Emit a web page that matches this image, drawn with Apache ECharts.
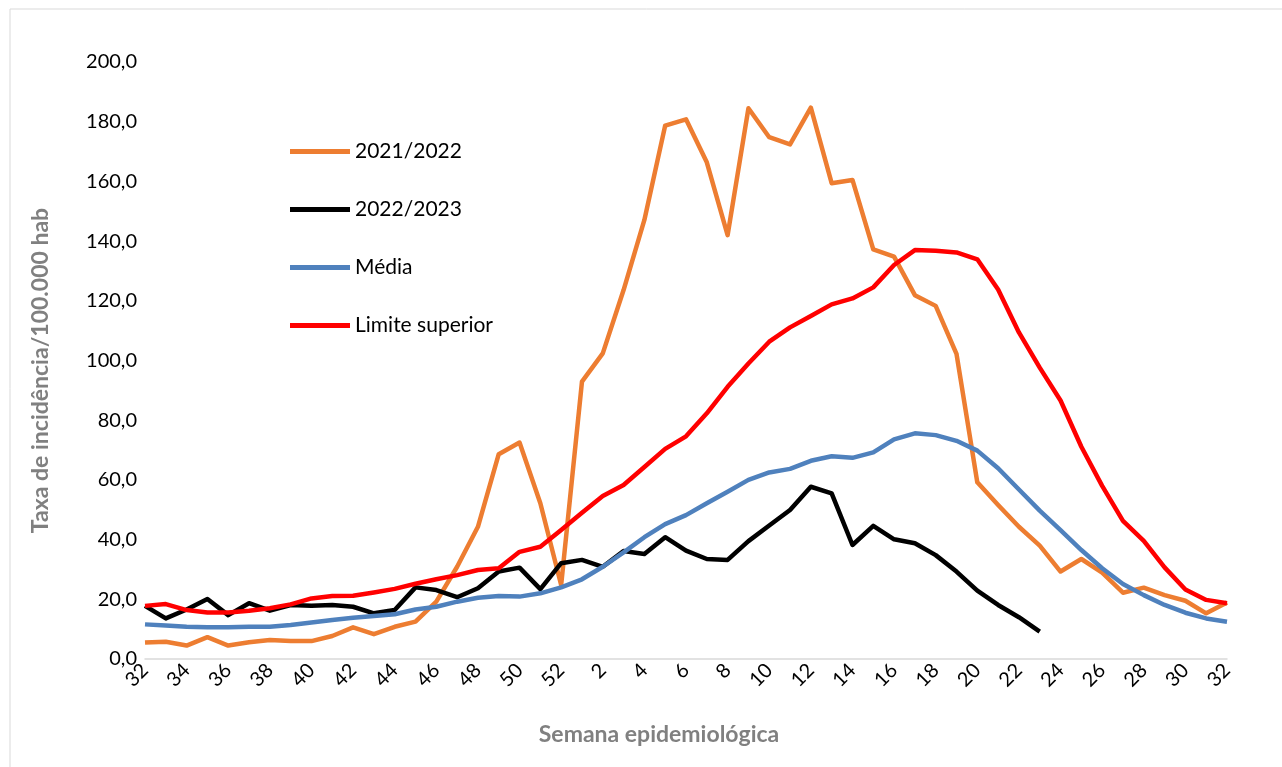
<html>
<head>
    <meta charset="utf-8">
    <title>Taxa de incidência</title>
    <script src="https://cdn.jsdelivr.net/npm/echarts@6/dist/echarts.min.js"></script>
    <style>
        body { margin: 0; background: #fff; }
        #main { width: 1282px; height: 767px; }
    </style>
</head>
<body>
<div id="main"></div>
<script type="text/javascript">
    // semanas epidemiológicas: 32..52 e depois 1..32
    var semanas = ['32','33','34','35','36','37','38','39','40','41','42','43','44','45','46','47','48','49','50','51','52',
        '1','2','3','4','5','6','7','8','9','10','11','12','13','14','15','16','17','18','19','20','21','22','23','24','25','26','27','28','29','30','31','32'];

    var temp2122 = [5.5, 5.8, 4.5, 7.3, 4.5, 5.6, 6.4, 6.0, 6.0, 7.7, 10.6, 8.3, 10.8, 12.5, 19.2, 30.9, 44.3, 68.6, 72.5, 52.2, 24.8,
        92.9, 102.4, 123.6, 147.1, 178.7, 180.8, 166.4, 142.0, 184.5, 174.8, 172.4, 184.7, 159.4, 160.5, 137.2, 134.8, 121.9, 118.3, 102.2,
        59.2, 51.6, 44.3, 38.0, 29.3, 33.5, 28.9, 22.2, 23.9, 21.4, 19.5, 15.3, 18.9];

    var temp2223 = [17.8, 13.6, 16.6, 20.1, 14.7, 18.7, 16.2, 18.1, 17.8, 18.1, 17.5, 15.3, 16.4, 24.0, 23.1, 20.7, 23.7, 29.3, 30.6, 23.4, 32.1,
        33.2, 30.9, 36.2, 35.2, 40.8, 36.3, 33.5, 33.2, 39.5, 44.7, 49.9, 57.7, 55.5, 38.2, 44.6, 40.1, 38.8, 34.8, 29.3,
        22.9, 18.1, 14.0, 9.2, null, null, null, null, null, null, null, null, null];

    var media = [11.6, 11.2, 10.8, 10.6, 10.6, 10.8, 10.8, 11.4, 12.2, 13.1, 13.8, 14.4, 15.0, 16.6, 17.5, 19.2, 20.5, 21.1, 20.9, 22.0, 24.0,
        26.7, 30.9, 35.7, 40.8, 45.2, 48.2, 52.2, 56.0, 60.0, 62.5, 63.7, 66.4, 67.9, 67.4, 69.2, 73.6, 75.6, 75.0, 73.1,
        69.8, 63.9, 56.8, 49.7, 43.2, 36.5, 30.4, 25.1, 21.4, 18.1, 15.5, 13.6, 12.5];

    var limiteSup = [17.8, 18.4, 16.4, 15.6, 15.6, 16.2, 17.0, 18.3, 20.3, 21.1, 21.2, 22.3, 23.5, 25.2, 26.7, 28.1, 29.8, 30.4, 35.9, 37.6, 43.2,
        49.0, 54.6, 58.3, 64.3, 70.4, 74.6, 82.3, 91.2, 99.0, 106.3, 111.1, 114.9, 118.8, 120.8, 124.5, 132.0, 137.0, 136.8, 136.2,
        133.9, 123.8, 109.4, 97.6, 86.6, 71.1, 58.0, 46.3, 39.6, 30.7, 23.3, 19.8, 18.7];

    var fonte = 'Lato, "Open Sans", sans-serif';

    function linha(nome, dados, cor) {
        return {
            name: nome,
            type: 'line',
            data: dados,
            showSymbol: false,
            symbol: 'none',
            connectNulls: false,
            lineStyle: { width: 4.5, color: cor, join: 'round' },
            itemStyle: { color: cor },
            animation: false
        };
    }

    var myChart = echarts.init(document.getElementById('main'));
    myChart.setOption({
        backgroundColor: '#fff',
        textStyle: { fontFamily: fonte },
        graphic: [{
            type: 'rect',
            shape: { x: 10, y: 9, width: 1300, height: 800 },
            style: { fill: 'none', stroke: '#d9d9d9', lineWidth: 1 },
            silent: true
        }],
        grid: { left: 145, right: 55, top: 62, bottom: 108, containLabel: false },
        legend: {
            orient: 'vertical',
            left: 285,
            top: 136,
            itemWidth: 60,
            itemHeight: 5,
            itemGap: 37,
            icon: 'rect',
            textStyle: { fontSize: 21, color: '#000', fontFamily: fonte },
            data: ['2021/2022', '2022/2023', 'Média', 'Limite superior']
        },
        xAxis: {
            type: 'category',
            data: semanas,
            boundaryGap: false,
            name: 'Semana epidemiológica',
            nameLocation: 'middle',
            nameGap: 64,
            nameTextStyle: { fontSize: 23, fontWeight: 'bold', color: '#808080', fontFamily: fonte, padding: [0, 54, 0, 0] },
            axisLine: { lineStyle: { color: '#d9d9d9', width: 1.5 } },
            axisTick: { show: false },
            axisLabel: { interval: 1, rotate: 45, fontSize: 20, color: '#000', margin: 8, fontFamily: fonte }
        },
        yAxis: {
            type: 'value',
            min: 0,
            max: 200,
            interval: 20,
            name: 'Taxa de incidência/100.000 hab',
            nameLocation: 'middle',
            nameGap: 93,
            nameTextStyle: { fontSize: 23, fontWeight: 'bold', color: '#808080', fontFamily: fonte, padding: [0, 20, 0, 0] },
            axisLine: { show: false },
            axisTick: { show: false },
            splitLine: { show: false },
            axisLabel: {
                fontSize: 20, color: '#000', margin: 8, fontFamily: fonte,
                formatter: function (v) { return v.toFixed(1).replace('.', ','); }
            }
        },
        series: [
            linha('2021/2022', temp2122, '#ED7D31'),
            linha('2022/2023', temp2223, '#000000'),
            linha('Média', media, '#4F81BD'),
            linha('Limite superior', limiteSup, '#FF0000')
        ]
    });
</script>
</body>
</html>
